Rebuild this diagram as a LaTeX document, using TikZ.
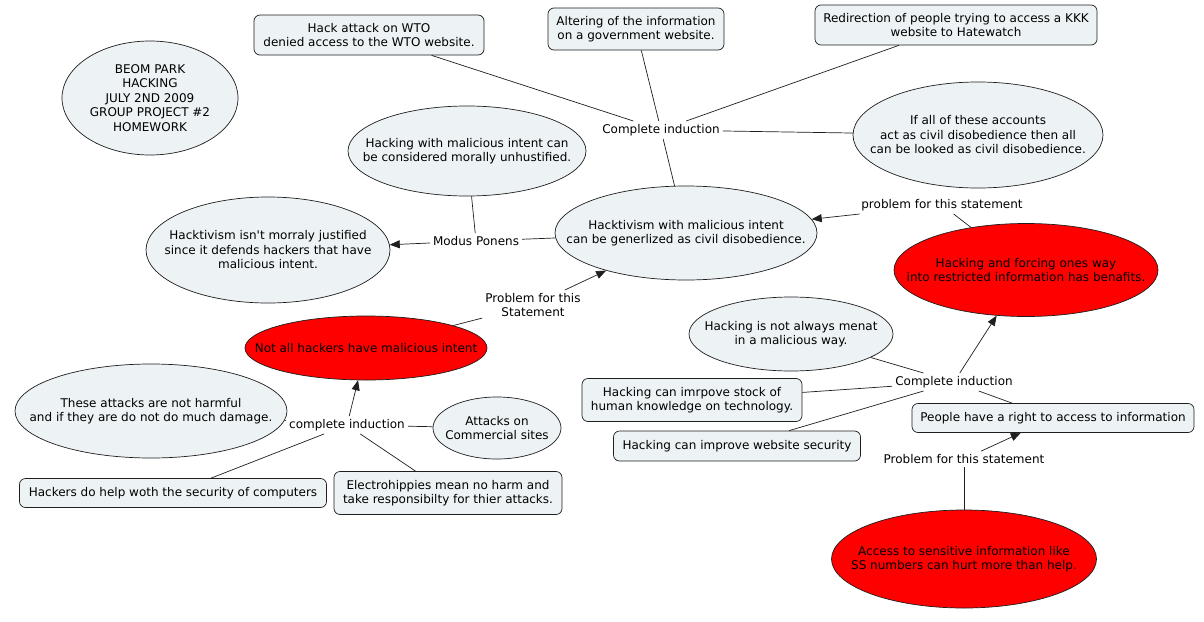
\documentclass[tikz,border=0pt]{standalone}
\usepackage{fontspec}
\setmainfont{DejaVu Sans}
\usetikzlibrary{shapes.geometric,arrows.meta}
\definecolor{cfill}{RGB}{237,243,245}
\definecolor{cred}{RGB}{255,0,0}
\definecolor{cline}{RGB}{30,30,30}
\begin{document}
\begin{tikzpicture}[x=1pt,y=-1pt,
  txt/.style={align=center,inner sep=0pt,font=\fontsize{12}{14.5}\selectfont},
  ell/.style={ellipse,draw=cline,line width=0.7pt,fill=cfill,inner sep=0pt},
  redell/.style={ell,fill=cred},
  rbox/.style={rectangle,rounded corners=6pt,draw=cline,line width=0.7pt,fill=cfill,align=center,inner sep=0pt,font=\fontsize{12}{14.5}\selectfont},
  lab/.style={align=center,inner sep=3pt,font=\fontsize{12}{14.5}\selectfont},
  conn/.style={draw=cline,line width=0.7pt},
  arr/.style={conn,-{Triangle[length=10pt,width=8pt]}}]
\useasboundingbox (0,0) rectangle (1204,621);
\fill[white] (0,0) rectangle (1204,621);

% top boxes
\node[rbox,minimum width=230pt,minimum height=40pt] (wto) at (369,35) {Hack attack on WTO\\denied access to the WTO website.};
\node[rbox,minimum width=176pt,minimum height=42pt] (alt) at (636,29) {Altering of the information\\on a government website.};
\node[rbox,minimum width=282pt,minimum height=40pt] (kkk) at (956,25) {Redirection of people trying to access a KKK\\website to Hatewatch};

% BEOM
\node[ell,minimum width=176pt,minimum height=114pt] (beom) at (150,98) {};
\node[txt] at (beom) {BEOM PARK\\HACKING\\JULY 2ND 2009\\GROUP PROJECT \#2\\HOMEWORK};

% malicious
\node[ell,minimum width=238pt,minimum height=90pt] (mal) at (467,151) {};
\node[txt] at (mal) {Hacking with malicious intent can\\be considered morally unhustified.};

% complete induction top
\node[lab] (ci1) at (661,130) {Complete induction};

% if all
\node[ell,minimum width=250pt,minimum height=106pt] (ifall) at (978,135) {};
\node[txt] at (ifall) {If all of these accounts\\act as civil disobedience then all\\can be looked as civil disobedience.};

% hacktivism central
\node[ell,minimum width=262pt,minimum height=94pt] (hact) at (686,233) {};
\node[txt] at (hact) {Hacktivism with malicious intent\\can be generlized as civil disobedience.};

% modus ponens
\node[lab] (mp) at (476,241) {Modus Ponens};

% isnt
\node[ell,minimum width=244pt,minimum height=106pt] (isnt) at (268,250) {};
\node[txt] at (isnt) {Hacktivism isn\textquotesingle t morraly justified\\since it defends hackers that have\\malicious intent.};

% problem 1
\node[lab] (p1) at (942,205) {problem for this statement};

% benefits red
\node[redell,minimum width=264pt,minimum height=93pt] (ben) at (1026,270) {};
\node[txt] at (ben) {Hacking and forcing ones way\\into restricted information has benafits.};

% problem 2
\node[lab] (p2) at (533,305) {Problem for this\\Statement};

% not all red
\node[redell,minimum width=242pt,minimum height=64pt] (notall) at (366,348) {};
\node[txt] at (notall) {Not all hackers have malicious intent};

% menat
\node[ell,minimum width=204pt,minimum height=74pt] (menat) at (791,334) {};
\node[txt] at (menat) {Hacking is not always menat\\in a malicious way.};

% complete induction right
\node[lab] (ci2) at (954,382) {Complete induction};

\node[rbox,minimum width=220pt,minimum height=43pt] (stock) at (692,400) {Hacking can imrpove stock of\\human knowledge on technology.};
\node[rbox,minimum width=247pt,minimum height=30pt] (websec) at (737,446) {Hacking can improve website security};
\node[rbox,minimum width=282pt,minimum height=29pt] (people) at (1053,418) {People have a right to access to information};

% problem 3
\node[lab] (p3) at (964,459) {Problem for this statement};

% access red
\node[redell,minimum width=265pt,minimum height=98pt] (access) at (964,559) {};
\node[txt] at (access) {Access to sensitive information like\\SS numbers can hurt more than help.};

% lower left
\node[ell,minimum width=272pt,minimum height=94pt] (harm) at (151,411) {};
\node[txt] at (harm) {These attacks are not harmful\\and if they are do not do much damage.};

\node[lab] (ci3) at (347,425) {complete induction};

\node[ell,minimum width=128pt,minimum height=62pt] (comm) at (497,428) {};
\node[txt] at (comm) {Attacks on\\Commercial sites};

\node[rbox,minimum width=307pt,minimum height=29pt] (help) at (173,493) {Hackers do help woth the security of computers};
\node[rbox,minimum width=228pt,minimum height=43pt] (elec) at (448,493) {Electrohippies mean no harm and\\take responsibilty for thier attacks.};

% connectors top
\draw[conn] (wto) -- (ci1);
\draw[conn] (alt) -- (ci1);
\draw[conn] (kkk) -- (ci1);
\draw[conn] (ci1) -- (ifall);
\draw[conn] (ci1) -- (hact);

% modus ponens
\draw[conn] (mal) -- (mp);
\draw[conn] (hact) -- (mp);
\draw[arr] (mp) -- (isnt);

% problem 1
\draw[conn] (ben) -- (p1);
\draw[arr] (p1) -- (hact);

% problem 2
\draw[conn] (notall) -- (p2);
\draw[arr] (p2) -- (hact);

% lower-left induction
\draw[conn] (harm) -- (ci3);
\draw[conn] (comm) -- (ci3);
\draw[conn] (help) -- (ci3);
\draw[conn] (elec) -- (ci3);
\draw[arr] (ci3) -- (notall);

% right induction
\draw[conn] (menat) -- (ci2);
\draw[conn] (stock) -- (ci2);
\draw[conn] (websec) -- (ci2);
\draw[conn] (people) -- (ci2);
\draw[arr] (ci2) -- (ben);

% problem 3
\draw[conn] (access) -- (p3);
\draw[arr] (p3) -- (people);
\end{tikzpicture}
\end{document}
